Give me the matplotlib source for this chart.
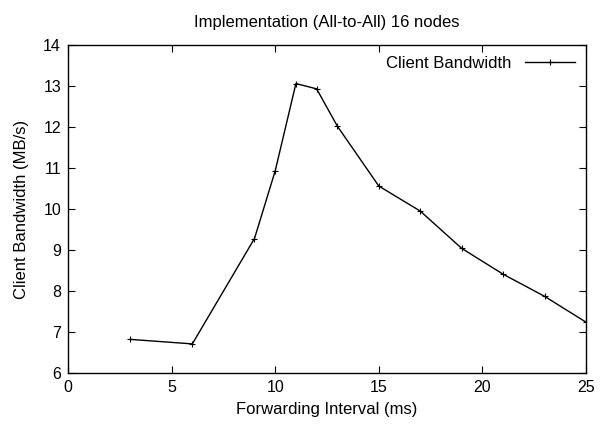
import matplotlib
matplotlib.use("Agg")
from matplotlib import pyplot as plt

plt.rcParams["font.family"] = ["Liberation Sans", "DejaVu Sans"]

# data
intervals = [3, 6, 9, 10, 11, 12, 13, 15, 17, 19, 21, 23, 25]
bandwidth = [6.82, 6.71, 9.28, 10.93, 13.06, 12.93, 12.02, 10.56, 9.95,
             9.04, 8.41, 7.87, 7.24]

fig = plt.figure(figsize=(6.01, 4.25), dpi=100)
# gnuplot-like frame: 68..586 px wide, 45..373 px tall
ax = fig.add_axes([68 / 601, 1 - 373 / 425, 518 / 601, 328 / 425])

ax.plot(intervals, bandwidth, color="black", linewidth=1.0,
        marker="+", markersize=5, markeredgewidth=0.8,
        label="Client Bandwidth")

ax.set_xlim(0, 25)
ax.set_ylim(6, 14)
ax.set_xticks(range(0, 26, 5))
ax.set_yticks(range(6, 15))
ax.tick_params(direction="in", top=True, right=True, length=5,
               labelsize=11.5, width=0.8, pad=5)
for s in ax.spines.values():
    s.set_linewidth(1.0)

ax.set_xlabel("Forwarding Interval (ms)", fontsize=12, labelpad=5)
ax.set_ylabel("Client Bandwidth (MB/s)", fontsize=12, labelpad=10)
ax.set_title("Implementation (All-to-All) 16 nodes", fontsize=12, pad=13)

ax.legend(loc="upper right", frameon=False, markerfirst=False,
          fontsize=12, handlelength=3, borderaxespad=0.25)

fig.savefig("out.png", dpi=100)
